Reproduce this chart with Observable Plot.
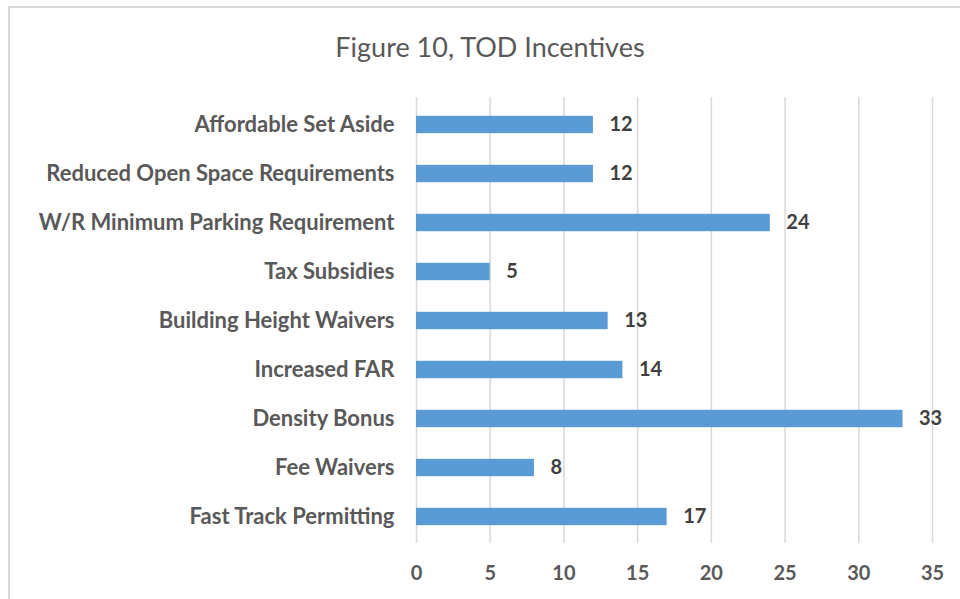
<!DOCTYPE html>
<html>
<head>
<meta charset="utf-8">
<script src="https://cdn.jsdelivr.net/npm/d3@7"></script>
<script src="https://cdn.jsdelivr.net/npm/@observablehq/plot@0.6"></script>
<style>
  html, body { margin: 0; padding: 0; background: #fff; }
  #wrap { position: relative; width: 960px; height: 599px; overflow: hidden; background: #fff; }
  #frame { position: absolute; left: 8px; top: 6px; width: 1100px; height: 1100px;
           border-top: 2px solid #d9d9d9; border-left: 2px solid #d9d9d9; pointer-events: none; }
  #title { position: absolute; left: 0; top: 0; width: 980px; height: 90px; line-height: 94px;
           text-align: center; font-family: Lato, "Open Sans", sans-serif; font-size: 27px; color: #595959; }
  #chart { position: absolute; left: 0; top: 90px; }
</style>
</head>
<body>
<div id="wrap">
  <div id="frame"></div>
  <div id="title">Figure 10, TOD Incentives</div>
  <div id="chart"></div>
</div>
<script>
const categories = [
  "Affordable Set Aside",
  "Reduced Open Space Requirements",
  "W/R Minimum Parking Requirement",
  "Tax Subsidies",
  "Building Height Waivers",
  "Increased FAR",
  "Density Bonus",
  "Fee Waivers",
  "Fast Track Permitting"
];
const values = [12, 12, 24, 5, 13, 14, 33, 8, 17];
const xTicks = [0, 5, 10, 15, 20, 25, 30, 35];

const data = categories.map((c, i) => ({category: c, value: values[i]}));

const chart = Plot.plot({
  width: 960,
  height: 509,
  marginLeft: 416,
  marginRight: 28,
  marginTop: 7,
  marginBottom: 56,
  style: {fontFamily: "Lato, 'Open Sans', sans-serif", fontSize: "20px", color: "#595959", background: "transparent"},
  x: {domain: [0, 35], ticks: xTicks},
  y: {domain: categories, padding: 0, label: null},
  marks: [
    Plot.gridX(xTicks, {stroke: "#d9d9d9", strokeOpacity: 1, strokeWidth: 1.5}),
    Plot.barX(data, {x: "value", y: "category", fill: "#5B9BD5", insetTop: 15.8, insetBottom: 15.8}),
    Plot.text(data, {x: "value", y: "category", text: d => String(d.value), dx: 16, textAnchor: "start",
                     fontWeight: "bold", fill: "#404040", fontSize: 20}),
    Plot.axisX({ticks: xTicks, tickSize: 0, tickPadding: 22, label: null, fontWeight: "bold", fill: "#595959", fontSize: 20}),
    Plot.axisY({tickSize: 0, tickPadding: 22, label: null, fontWeight: "bold", fill: "#595959", fontSize: 22})
  ]
});
document.getElementById("chart").appendChild(chart);
</script>
</body>
</html>
